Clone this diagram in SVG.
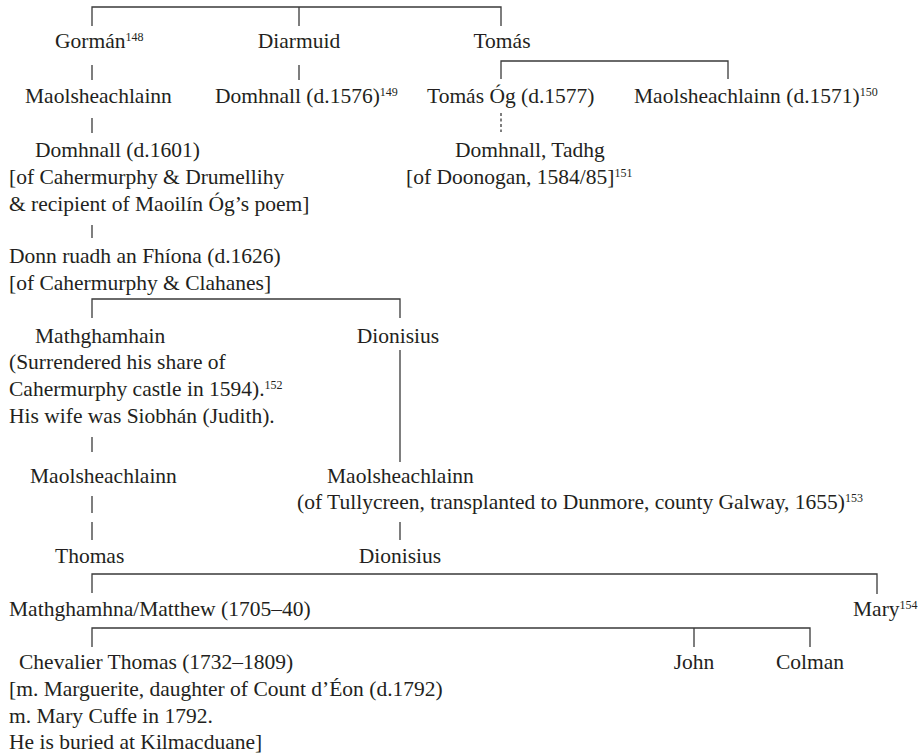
<svg xmlns="http://www.w3.org/2000/svg" width="920" height="756" viewBox="0 0 920 756">
<style>
text{font-family:"Liberation Serif","Times New Roman",serif;font-size:21.5px;fill:#231f20}
.sup{font-size:12px}
.c{text-anchor:middle}
#connectors path{fill:none;stroke:#3a3a3a;stroke-width:1.3}
#connectors .dash{stroke-dasharray:3 2.5}
</style>
<rect width="920" height="756" fill="#fff"/>
<g id="connectors">
<path d="M92 26V7H501V26M299 7V26"/>
<path d="M92 65V80M299 65V80"/>
<path d="M501 79V61H728V79"/>
<path class="dash" d="M501 113V132"/>
<path d="M92 118V133"/>
<path d="M92 225V238"/>
<path d="M92 318V299H400V318"/>
<path d="M400 350V462"/>
<path d="M92 437V452"/>
<path d="M92 496V513M92 522V540"/>
<path d="M400 522V540"/>
<path d="M92 593V574H877V594"/>
<path d="M92 647V628H810V647M694 628V647"/>
</g>
<g id="gorman"><text x="55" y="48">Gormán<tspan class="sup" dy="-7">148</tspan></text></g>
<g id="diarmuid"><text x="299" y="48" class="c">Diarmuid</text></g>
<g id="tomas"><text x="502" y="48" class="c">Tomás</text></g>
<g id="maolsheachlainn1"><text x="25" y="103">Maolsheachlainn</text></g>
<g id="domhnall1576"><text x="215" y="103">Domhnall (d.1576)<tspan class="sup" dy="-7">149</tspan></text></g>
<g id="tomasog"><text x="427" y="103">Tomás Óg (d.1577)</text></g>
<g id="maolsheachlainn1571"><text x="634" y="103">Maolsheachlainn (d.1571)<tspan class="sup" dy="-7">150</tspan></text></g>
<g id="domhnall1601">
<text x="35" y="157">Domhnall (d.1601)</text>
<text x="9" y="184">[of Cahermurphy &amp; Drumellihy</text>
<text x="9" y="211">&amp; recipient of Maoilín Óg’s poem]</text>
</g>
<g id="domhnalltadhg">
<text x="455" y="157">Domhnall, Tadhg</text>
<text x="406" y="184">[of Doonogan, 1584/85]<tspan class="sup" dy="-7">151</tspan></text>
</g>
<g id="donnruadh">
<text x="9" y="263">Donn ruadh an Fhíona (d.1626)</text>
<text x="9" y="290">[of Cahermurphy &amp; Clahanes]</text>
</g>
<g id="mathghamhain">
<text x="35" y="343">Mathghamhain</text>
<text x="9" y="369">(Surrendered his share of</text>
<text x="9" y="396">Cahermurphy castle in 1594).<tspan class="sup" dy="-7">152</tspan></text>
<text x="9" y="423">His wife was Siobhán (Judith).</text>
</g>
<g id="dionisius1"><text x="398" y="343" class="c">Dionisius</text></g>
<g id="maolsheachlainn2"><text x="30" y="483">Maolsheachlainn</text></g>
<g id="maolsheachlainn3">
<text x="327" y="483">Maolsheachlainn</text>
<text x="297" y="509">(of Tullycreen, transplanted to Dunmore, county Galway, 1655)<tspan class="sup" dy="-7">153</tspan></text>
</g>
<g id="thomas"><text x="55" y="563">Thomas</text></g>
<g id="dionisius2"><text x="400" y="563" class="c">Dionisius</text></g>
<g id="mathghamhna"><text x="9" y="616">Mathghamhna/Matthew (1705–40)</text></g>
<g id="mary"><text x="853" y="616">Mary<tspan class="sup" dy="-7">154</tspan></text></g>
<g id="chevalier">
<text x="19" y="669">Chevalier Thomas (1732–1809)</text>
<text x="9" y="696">[m. Marguerite, daughter of Count d’Éon (d.1792)</text>
<text x="9" y="723">m. Mary Cuffe in 1792.</text>
<text x="9" y="749">He is buried at Kilmacduane]</text>
</g>
<g id="john"><text x="694" y="669" class="c">John</text></g>
<g id="colman"><text x="810" y="669" class="c">Colman</text></g>
</svg>
